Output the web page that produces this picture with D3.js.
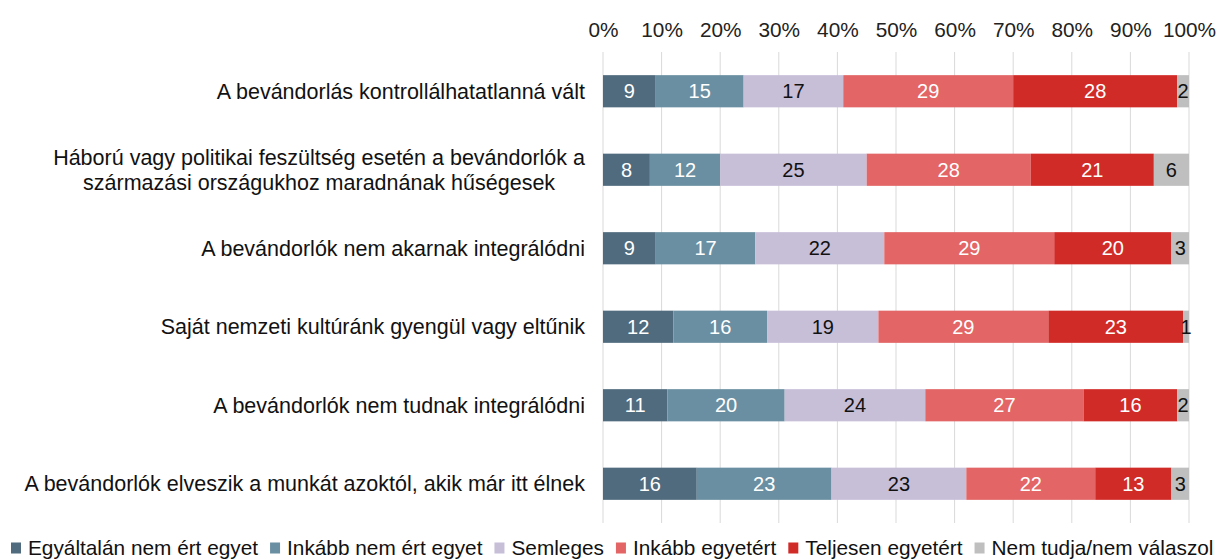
<!DOCTYPE html>
<html>
<head>
<meta charset="utf-8">
<script src="https://cdn.jsdelivr.net/npm/d3@7"></script>
<style>
  body { margin: 0; background: #fff; }
  svg { display: block; font-family: "Liberation Sans", Arial, sans-serif; }
</style>
</head>
<body>
<svg id="chart"></svg>
<script>
const width = 1224;
const height = 559;

// statements (each one split into display lines)
const categories = [
  ["A bevándorlás kontrollálhatatlanná vált"],
  ["Háború vagy politikai feszültség esetén a bevándorlók a", "származási országukhoz maradnának hűségesek"],
  ["A bevándorlók nem akarnak integrálódni"],
  ["Saját nemzeti kultúránk gyengül vagy eltűnik"],
  ["A bevándorlók nem tudnak integrálódni"],
  ["A bevándorlók elveszik a munkát azoktól, akik már itt élnek"]
];

const seriesNames = [
  "Egyáltalán nem ért egyet",
  "Inkább nem ért egyet",
  "Semleges",
  "Inkább egyetért",
  "Teljesen egyetért",
  "Nem tudja/nem válaszol"
];

const egyaltalanNem = [9, 8, 9, 12, 11, 16];
const inkabbNem = [15, 12, 17, 16, 20, 23];
const semleges = [17, 25, 22, 19, 24, 23];
const inkabbIgen = [29, 28, 29, 29, 27, 22];
const teljesen = [28, 21, 20, 23, 16, 13];
const nemTudja = [2, 6, 3, 1, 2, 3];

const tickValues = [0, 10, 20, 30, 40, 50, 60, 70, 80, 90, 100];

const colors = ["#4f6b7d", "#6a8fa2", "#c7bed8", "#e36565", "#d12b28", "#bfbfbf"];
const textColors = ["#fff", "#fff", "#111", "#fff", "#fff", "#111"];

const seriesValues = [egyaltalanNem, inkabbNem, semleges, inkabbIgen, teljesen, nemTudja];

// rows for d3.stack
const rows = categories.map((c, i) => {
  const row = { idx: i };
  seriesNames.forEach((s, j) => { row[s] = seriesValues[j][i]; });
  return row;
});

const margin = { top: 52, right: 35, bottom: 36, left: 603 };

const svg = d3.select("#chart")
  .attr("width", width)
  .attr("height", height);

const x = d3.scaleLinear()
  .domain([0, 100])
  .range([margin.left, width - margin.right]);

const y = d3.scaleBand()
  .domain(d3.range(categories.length))
  .range([margin.top, height - margin.bottom])
  .paddingInner(0.59)
  .paddingOuter(0.295);

// grid
svg.append("g")
  .selectAll("line")
  .data(tickValues)
  .join("line")
  .attr("x1", d => x(d))
  .attr("x2", d => x(d))
  .attr("y1", margin.top)
  .attr("y2", height - margin.bottom)
  .attr("stroke", "#d9d9d9")
  .attr("stroke-width", 1);

// top axis labels
const axis = svg.append("g")
  .attr("transform", `translate(0,${margin.top - 12})`)
  .call(d3.axisTop(x).tickValues(tickValues).tickFormat(d => d + "%").tickSize(0));
axis.select(".domain").remove();
axis.selectAll("text")
  .attr("font-family", "Liberation Sans, Arial, sans-serif")
  .attr("font-size", "20.8px")
  .attr("fill", "#222")
  .attr("dy", "0");

// bars
const stack = d3.stack().keys(seriesNames);
const stacked = stack(rows);

const layers = svg.append("g")
  .selectAll("g")
  .data(stacked)
  .join("g")
  .attr("fill", (d, i) => colors[i]);

layers.selectAll("rect")
  .data(d => d)
  .join("rect")
  .attr("x", d => x(d[0]))
  .attr("y", d => y(d.data.idx))
  .attr("width", d => x(d[1]) - x(d[0]))
  .attr("height", y.bandwidth());

layers.each(function (layer, li) {
  d3.select(this).selectAll("text")
    .data(layer)
    .join("text")
    .attr("x", d => (x(d[0]) + x(d[1])) / 2)
    .attr("y", d => y(d.data.idx) + y.bandwidth() / 2)
    .attr("dy", "0.35em")
    .attr("text-anchor", "middle")
    .attr("font-size", "20px")
    .attr("fill", textColors[li])
    .text(d => d[1] - d[0]);
});

// category labels
const labelRight = 585;
const lineH = 25;
svg.append("g")
  .selectAll("text")
  .data(categories)
  .join("text")
  .attr("font-size", "21.5px")
  .attr("fill", "#111")
  .each(function (lines, i) {
    const t = d3.select(this);
    const cy = y(i) + y.bandwidth() / 2;
    const y0 = cy - (lines.length - 1) * lineH / 2;
    lines.forEach((ln, k) => {
      t.append("tspan")
        .attr("x", labelRight)
        .attr("y", y0 + k * lineH)
        .attr("dy", "0.35em")
        .text(ln);
    });
    if (lines.length > 1) {
      // centre the lines inside the right-aligned block
      const w = d3.max(t.selectAll("tspan").nodes(), n => n.getComputedTextLength());
      t.attr("text-anchor", "middle")
        .selectAll("tspan").attr("x", labelRight - w / 2);
    } else {
      t.attr("text-anchor", "end");
    }
  });

// legend
const legend = svg.append("g").attr("transform", `translate(11,${height - 11})`);
let lx = 0;
seriesNames.forEach((name, i) => {
  const g = legend.append("g").attr("transform", `translate(${lx},0)`);
  g.append("rect")
    .attr("x", 0).attr("y", -5.5)
    .attr("width", 10).attr("height", 11)
    .attr("fill", colors[i]);
  const txt = g.append("text")
    .attr("x", 17)
    .attr("dy", "0.35em")
    .attr("font-size", "20.8px")
    .attr("fill", "#111")
    .text(name);
  lx += 17 + txt.node().getComputedTextLength() + 12;
});
</script>
</body>
</html>
